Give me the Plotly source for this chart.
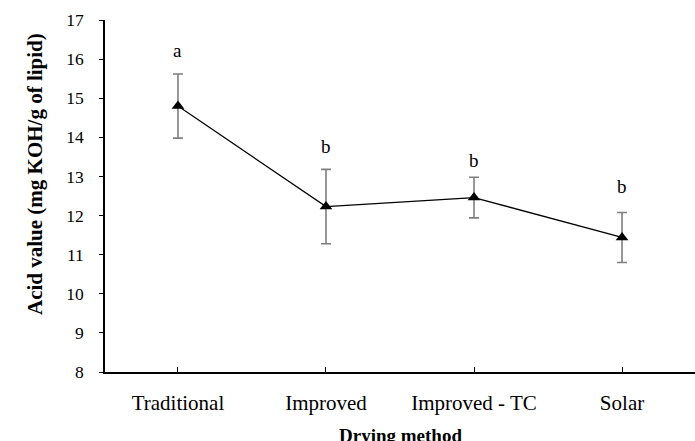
import plotly.graph_objects as go

categories = ["Traditional", "Improved", "Improved - TC", "Solar"]
acid_value = [14.80, 12.23, 12.46, 11.44]
error = [0.82, 0.95, 0.52, 0.64]
letters = ["a", "b", "b", "b"]
letter_y = [16.23, 13.76, 13.42, 12.74]

SERIF = "Liberation Serif, Times New Roman, serif"

fig = go.Figure()
fig.add_trace(go.Scatter(
    x=categories, y=acid_value, mode="lines+markers",
    line=dict(color="black", width=1.3),
    marker=dict(symbol="triangle-up", size=11, color="black"),
    error_y=dict(type="data", array=error, visible=True, color="#7f7f7f", thickness=1.6, width=5),
    showlegend=False,
))
for c, t, yv in zip(categories, letters, letter_y):
    fig.add_annotation(x=c, y=yv, text=t, showarrow=False,
                       font=dict(family=SERIF, size=19, color="black"))

fig.add_annotation(xref="paper", yref="paper", x=0.5, y=0, yshift=-63, yanchor="middle",
                   text="<b>Drying method</b>", showarrow=False,
                   font=dict(family=SERIF, size=19, color="black"))
fig.add_annotation(xref="paper", yref="paper", x=0, xshift=-84, y=0.5, yshift=22, textangle=-90,
                   text="<b>Acid value (mg KOH/g of lipid)</b>", showarrow=False,
                   font=dict(family=SERIF, size=21, color="black"))

fig.update_layout(
    width=695, height=441,
    margin=dict(l=105, r=0, t=20, b=69),
    paper_bgcolor="white", plot_bgcolor="white",
    font=dict(family=SERIF, size=18, color="black"),
    xaxis=dict(type="category", range=[-0.493, 3.493], showline=True, linecolor="black", linewidth=1.5,
               ticks="inside", ticklen=5, tickcolor="black", showgrid=False, zeroline=False,
               ticklabelstandoff=11, tickfont=dict(family=SERIF, size=21)),
    yaxis=dict(range=[8, 17], dtick=1, showline=True, linecolor="black", linewidth=1.5,
               ticks="outside", ticklen=4, tickcolor="black", showgrid=False, zeroline=False,
               ticklabelstandoff=12, tickfont=dict(family=SERIF, size=17.5)),
)
fig.write_html("out.html")
